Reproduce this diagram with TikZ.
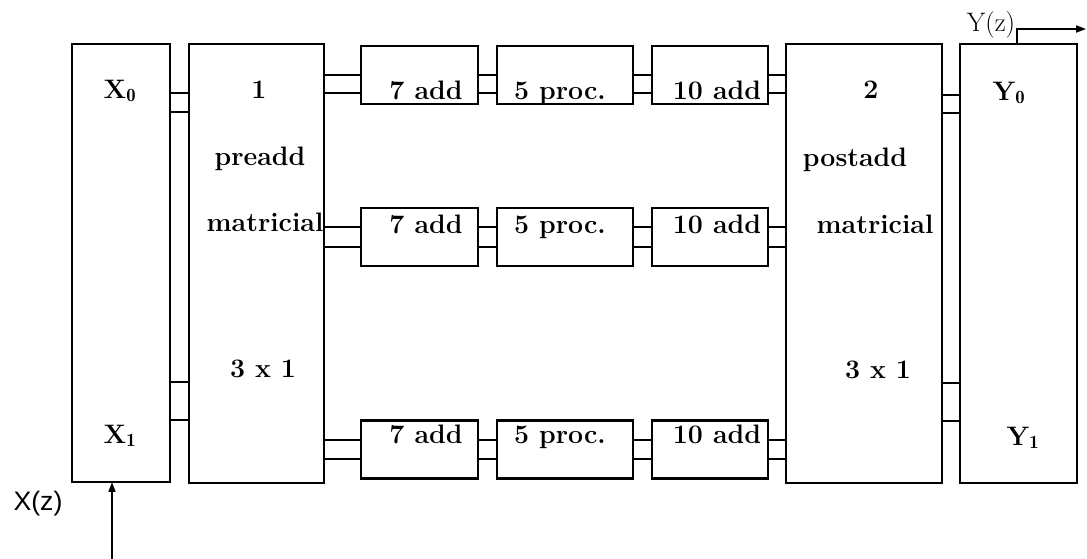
\documentclass[tikz,border=0pt]{standalone}
\usepackage{fontspec}
\newfontfamily\xzfont{Liberation Sans}
\usetikzlibrary{arrows.meta}
\begin{document}
\begin{tikzpicture}[x=0.025cm,y=-0.025cm,
	box/.style={draw,line width=1.8pt,inner sep=0pt,outer sep=0pt},
	wire/.style={line width=1.6pt},
	lbl/.style={anchor=base,inner sep=0pt,font=\fontsize{19}{23}\selectfont\bfseries}]
	\tikzstyle{every node}=[font=\fontsize{19}{23}\selectfont]
	\useasboundingbox (0,0) rectangle (1087,559);
	% main blocks
	\node [box,minimum width=2.45cm,minimum height=10.95cm] (xin) at (121,263) {};
	\node [box,minimum width=3.375cm,minimum height=10.975cm] (pre) at (256.5,263.5) {};
	\node [box,minimum width=3.9cm,minimum height=10.975cm] (post) at (864,263.5) {};
	\node [box,minimum width=2.925cm,minimum height=10.975cm] (yout) at (1018.5,263.5) {};
	% row blocks
	\node [box,minimum width=2.925cm,minimum height=1.45cm] (a7r1) at (419.5,75) {};
	\node [box,minimum width=3.4cm,minimum height=1.45cm] (p5r1) at (565,75) {};
	\node [box,minimum width=2.9cm,minimum height=1.45cm] (a10r1) at (710,75) {};
	\node [box,minimum width=2.925cm,minimum height=1.45cm] (a7r2) at (419.5,237) {};
	\node [box,minimum width=3.4cm,minimum height=1.45cm] (p5r2) at (565,237) {};
	\node [box,minimum width=2.9cm,minimum height=1.45cm] (a10r2) at (710,237) {};
	\node [box,minimum width=2.925cm,minimum height=1.45cm] (a7r3) at (419.5,449.5) {};
	\node [box,minimum width=3.4cm,minimum height=1.45cm] (p5r3) at (565,449.5) {};
	\node [box,minimum width=2.9cm,minimum height=1.45cm] (a10r3) at (710,449.5) {};
	% X to preadd
	\draw [wire] (xin.east |- 0,93) -- (pre.west |- 0,93);
	\draw [wire] (xin.east |- 0,112) -- (pre.west |- 0,112);
	\draw [wire] (xin.east |- 0,382) -- (pre.west |- 0,382);
	\draw [wire] (xin.east |- 0,420) -- (pre.west |- 0,420);
	% row 1
	\draw [wire] (pre.east |- 0,75) -- (a7r1.west |- 0,75);
	\draw [wire] (pre.east |- 0,93) -- (a7r1.west |- 0,93);
	\draw [wire] (a7r1.east |- 0,75) -- (p5r1.west |- 0,75);
	\draw [wire] (a7r1.east |- 0,93) -- (p5r1.west |- 0,93);
	\draw [wire] (p5r1.east |- 0,75) -- (a10r1.west |- 0,75);
	\draw [wire] (p5r1.east |- 0,93) -- (a10r1.west |- 0,93);
	\draw [wire] (a10r1.east |- 0,75) -- (post.west |- 0,75);
	\draw [wire] (a10r1.east |- 0,93) -- (post.west |- 0,93);
	% row 2
	\draw [wire] (pre.east |- 0,227) -- (a7r2.west |- 0,227);
	\draw [wire] (pre.east |- 0,247) -- (a7r2.west |- 0,247);
	\draw [wire] (a7r2.east |- 0,227) -- (p5r2.west |- 0,227);
	\draw [wire] (a7r2.east |- 0,247) -- (p5r2.west |- 0,247);
	\draw [wire] (p5r2.east |- 0,227) -- (a10r2.west |- 0,227);
	\draw [wire] (p5r2.east |- 0,247) -- (a10r2.west |- 0,247);
	\draw [wire] (a10r2.east |- 0,227) -- (post.west |- 0,227);
	\draw [wire] (a10r2.east |- 0,247) -- (post.west |- 0,247);
	% row 3
	\draw [wire] (pre.east |- 0,440) -- (a7r3.west |- 0,440);
	\draw [wire] (pre.east |- 0,459) -- (a7r3.west |- 0,459);
	\draw [wire] (a7r3.east |- 0,440) -- (p5r3.west |- 0,440);
	\draw [wire] (a7r3.east |- 0,459) -- (p5r3.west |- 0,459);
	\draw [wire] (p5r3.east |- 0,440) -- (a10r3.west |- 0,440);
	\draw [wire] (p5r3.east |- 0,459) -- (a10r3.west |- 0,459);
	\draw [wire] (a10r3.east |- 0,440) -- (post.west |- 0,440);
	\draw [wire] (a10r3.east |- 0,459) -- (post.west |- 0,459);
	% postadd to Y
	\draw [wire] (post.east |- 0,95) -- (yout.west |- 0,95);
	\draw [wire] (post.east |- 0,113) -- (yout.west |- 0,113);
	\draw [wire] (post.east |- 0,383) -- (yout.west |- 0,383);
	\draw [wire] (post.east |- 0,421) -- (yout.west |- 0,421);
	% input and output
	\coordinate (xsrc) at (112,559);
	\coordinate (yend) at (1086,29);
	\draw [line width=1.1pt,-{Triangle[length=7pt,width=5pt]}] (xsrc) -- (xsrc |- xin.south);
	\draw [line width=1.1pt,-{Triangle[length=7pt,width=5pt]}] (yout.north -| 1017,0) |- (yend);
	\node [anchor=base,inner sep=0pt,font=\xzfont\fontsize{19}{23}\selectfont] (xz) at (38,510) {X(z)};
	\node [anchor=base,inner sep=0pt] (yz) at (991,31) {Y(z)};
	% texts
	\node [lbl] (x0) at (120,98) {X$_{\mathbf 0}$};
	\node [lbl] (x1) at (120,443) {X$_{\mathbf 1}$};
	\node [lbl] (y0) at (1009,100) {Y$_{\mathbf 0}$};
	\node [lbl] (y1) at (1023,445) {Y$_{\mathbf 1}$};
	\node [lbl] (t1) at (259,98) {1};
	\node [lbl] (tpre) at (260,165) {preadd};
	\node [lbl] (tmat1) at (265,231) {matricial};
	\node [lbl] (tdim1) at (263,377) {3 x 1};
	\node [lbl] (t2) at (871,98) {2};
	\node [lbl] (tpost) at (855,166) {postadd};
	\node [lbl] (tmat2) at (875,233) {matricial};
	\node [lbl] (tdim2) at (878,378) {3 x 1};
	\node [lbl] at (426,99) {7 add};
	\node [lbl] at (560,99) {5 proc.};
	\node [lbl] at (717,99) {10 add};
	\node [lbl] at (426,233) {7 add};
	\node [lbl] at (560,233) {5 proc.};
	\node [lbl] at (717,233) {10 add};
	\node [lbl] at (426,443) {7 add};
	\node [lbl] at (560,443) {5 proc.};
	\node [lbl] at (717,443) {10 add};
\end{tikzpicture}
\end{document}
